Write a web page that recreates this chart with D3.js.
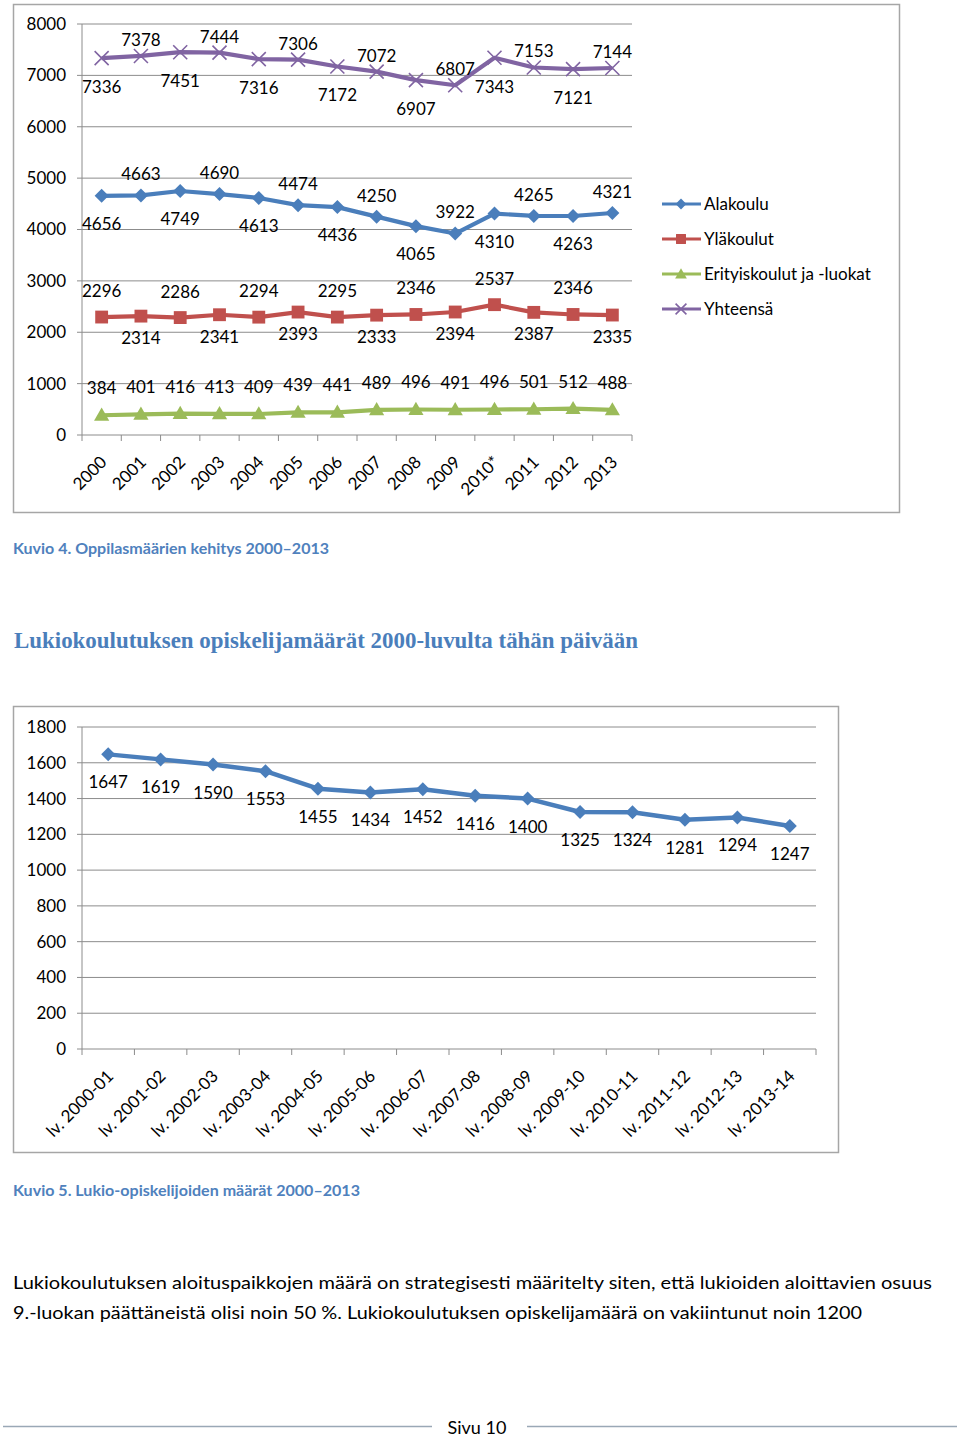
<!DOCTYPE html>
<html>
<head>
<meta charset="utf-8">
<style>
  body{margin:0;background:#fff;}
  svg text{font-family:Lato,"Open Sans",sans-serif;fill:#000;}
</style>
</head>
<body>
<svg id="page" width="960" height="1439"></svg>
<script src="https://d3js.org/d3.v7.min.js"></script>
<script>

// ---- data: Kuvio 4 ----
var years = ["2000","2001","2002","2003","2004","2005","2006","2007","2008","2009","2010*","2011","2012","2013"];
var alakoulu  = [4656,4663,4749,4690,4613,4474,4436,4250,4065,3922,4310,4265,4263,4321];
var ylakoulut = [2296,2314,2286,2341,2294,2393,2295,2333,2346,2394,2537,2387,2346,2335];
var erityis   = [384,401,416,413,409,439,441,489,496,491,496,501,512,488];
var yhteensa  = [7336,7378,7451,7444,7316,7306,7172,7072,6907,6807,7343,7153,7121,7144];
var seriesNames = ["Alakoulu","Yläkoulut","Erityiskoulut ja -luokat","Yhteensä"];
var topTicks = [0,1000,2000,3000,4000,5000,6000,7000,8000];

// ---- data: Kuvio 5 ----
var schoolYears = ["lv. 2000-01","lv. 2001-02","lv. 2002-03","lv. 2003-04","lv. 2004-05","lv. 2005-06","lv. 2006-07",
                   "lv. 2007-08","lv. 2008-09","lv. 2009-10","lv. 2010-11","lv. 2011-12","lv. 2012-13","lv. 2013-14"];
var lukio = [1647,1619,1590,1553,1455,1434,1452,1416,1400,1325,1324,1281,1294,1247];
var bottomTicks = [0,200,400,600,800,1000,1200,1400,1600,1800];

var svg = d3.select("#page");
var gridColor = "#8c8c8c";

function marker(sel, type, color, scale) {
    scale = scale || 1;
    if (type == "diamond") {
        sel.append("path").attr("d", d3.symbol(d3.symbolSquare, 98*scale)())
            .attr("transform", "rotate(45)").attr("fill", color);
    } else if (type == "square") {
        sel.append("path").attr("d", d3.symbol(d3.symbolSquare, 165*scale)()).attr("fill", color);
    } else if (type == "triangle") {
        sel.append("path").attr("d", d3.symbol(d3.symbolTriangle, 100*scale)())
            .attr("transform", "translate(0,1)").attr("fill", color);
    } else if (type == "x") {
        var r = 7*Math.sqrt(scale);
        sel.append("path").attr("d", "M" + (-r) + "," + (-r) + "L" + r + "," + r + "M" + (-r) + "," + r + "L" + r + "," + (-r))
            .attr("stroke", color).attr("stroke-width", 1.6).attr("fill", "none");
    }
}

// common frame/grid/axes for an Excel-like line chart
function drawFrame(g, x, y, ticks, cats, fontSize) {
    var left = x.range()[0], right = x.range()[1];
    var y0 = y(0);
    g.selectAll(".grid").data(ticks.filter(function(t){ return t > 0; })).enter().append("line")
        .attr("x1", left - 5).attr("x2", right)
        .attr("y1", function(d){ return y(d); }).attr("y2", function(d){ return y(d); })
        .attr("stroke", gridColor).attr("stroke-width", 1);
    g.append("line").attr("x1", left).attr("x2", left)
        .attr("y1", y(ticks[ticks.length-1])).attr("y2", y0)
        .attr("stroke", gridColor).attr("stroke-width", 1);
    g.append("line").attr("x1", left - 5).attr("x2", right).attr("y1", y0).attr("y2", y0)
        .attr("stroke", gridColor).attr("stroke-width", 1);
    // category ticks between categories
    var edges = cats.map(function(c){ return x(c); }).concat([right]);
    g.selectAll(".xt").data(edges).enter().append("line")
        .attr("x1", function(d){ return d; }).attr("x2", function(d){ return d; })
        .attr("y1", y0).attr("y2", y0 + 6)
        .attr("stroke", gridColor).attr("stroke-width", 1);
    g.selectAll(".yl").data(ticks).enter().append("text")
        .attr("x", left - 16).attr("y", function(d){ return y(d); })
        .attr("dy", "0.35em").attr("text-anchor", "end")
        .style("font-size", fontSize + "px").text(function(d){ return d; });
    g.selectAll(".xl").data(cats).enter().append("text")
        .attr("transform", function(d){
            return "translate(" + (x(d) + x.bandwidth()/2 + 2) + "," + (y0 + 24) + ") rotate(-45)";
        })
        .attr("dy", "0.35em").attr("text-anchor", "end")
        .style("font-size", fontSize + "px").text(function(d){ return d; });
}

// ===== Chart 1 =====
svg.append("rect").attr("x", 13.5).attr("y", 4.5).attr("width", 886).attr("height", 508)
    .attr("fill", "none").attr("stroke", "#a6a6a6").attr("stroke-width", 1.5);

var x1 = d3.scaleBand().domain(years).range([82, 632]);
var y1 = d3.scaleLinear().domain([0, 8000]).range([435, 24]);
var g1 = svg.append("g");
drawFrame(g1, x1, y1, topTicks, years, 17);

var topSeries = [
    {name: seriesNames[0], values: alakoulu,  color: "#4a7ebb", marker: "diamond",  labels: ["below","above"], up: -21, down: 28},
    {name: seriesNames[1], values: ylakoulut, color: "#c0504d", marker: "square",   labels: ["above","below"], up: -26, down: 22},
    {name: seriesNames[2], values: erityis,   color: "#9bbb59", marker: "triangle", labels: ["above","above"], up: -27, down: 0},
    {name: seriesNames[3], values: yhteensa,  color: "#8064a2", marker: "x",        labels: ["below","above"], up: -16, down: 29}
];

var cx1 = function(i){ return x1(years[i]) + x1.bandwidth()/2; };

topSeries.forEach(function(s){
    var line = d3.line().x(function(d, i){ return cx1(i); }).y(function(d){ return y1(d); });
    g1.append("path").datum(s.values).attr("d", line)
        .attr("fill", "none").attr("stroke", s.color).attr("stroke-width", 4.2)
        .attr("stroke-linejoin", "round");
    s.values.forEach(function(v, i){
        var m = g1.append("g").attr("transform", "translate(" + cx1(i) + "," + y1(v) + ")");
        marker(m, s.marker, s.color);
    });
    g1.selectAll(null).data(s.values).enter().append("text")
        .attr("x", function(d, i){ return cx1(i); })
        .attr("y", function(d, i){ return y1(d) + (s.labels[i % 2] == "above" ? s.up : s.down); })
        .attr("dy", "0.35em").attr("text-anchor", "middle")
        .style("font-size", "17px").text(function(d){ return d; });
});

// legend
var leg = svg.append("g");
topSeries.forEach(function(s, i){
    var ly = 204 + i*35;
    leg.append("line").attr("x1", 662).attr("x2", 701).attr("y1", ly).attr("y2", ly)
        .attr("stroke", s.color).attr("stroke-width", 3);
    var m = leg.append("g").attr("transform", "translate(681," + ly + ")");
    marker(m, s.marker, s.color, 0.6);
    leg.append("text").attr("x", 704).attr("y", ly).attr("dy", "0.35em")
        .style("font-size", "17px").text(s.name);
});

svg.append("text").attr("x", 13).attr("y", 554).attr("textLength", 316).attr("lengthAdjust", "spacingAndGlyphs")
    .style("font-size", "15px").style("font-weight", "bold").style("fill", "#4f81bd")
    .text("Kuvio 4. Oppilasmäärien kehitys 2000–2013");

svg.append("text").attr("x", 14).attr("y", 648).attr("textLength", 624).attr("lengthAdjust", "spacingAndGlyphs")
    .style("font-family", "'Liberation Serif','DejaVu Serif',serif")
    .style("font-size", "23px").style("font-weight", "bold").style("fill", "#4a7ebb")
    .text("Lukiokoulutuksen opiskelijamäärät 2000-luvulta tähän päivään");

// ===== Chart 2 =====
svg.append("rect").attr("x", 13.5).attr("y", 706.5).attr("width", 825).attr("height", 446)
    .attr("fill", "none").attr("stroke", "#a6a6a6").attr("stroke-width", 1.5);

var x2 = d3.scaleBand().domain(schoolYears).range([82, 816]);
var y2 = d3.scaleLinear().domain([0, 1800]).range([1049, 727]);
var g2 = svg.append("g");
drawFrame(g2, x2, y2, bottomTicks, schoolYears, 17);

var cx2 = function(i){ return x2(schoolYears[i]) + x2.bandwidth()/2; };
g2.append("path").datum(lukio)
    .attr("d", d3.line().x(function(d, i){ return cx2(i); }).y(function(d){ return y2(d); }))
    .attr("fill", "none").attr("stroke", "#4a7ebb").attr("stroke-width", 4.5).attr("stroke-linejoin", "round");
lukio.forEach(function(v, i){
    var m = g2.append("g").attr("transform", "translate(" + cx2(i) + "," + y2(v) + ")");
    marker(m, "diamond", "#4a7ebb");
});
g2.selectAll(null).data(lukio).enter().append("text")
    .attr("x", function(d, i){ return cx2(i); })
    .attr("y", function(d){ return y2(d) + 28; })
    .attr("dy", "0.35em").attr("text-anchor", "middle")
    .style("font-size", "17px").text(function(d){ return d; });

svg.append("text").attr("x", 13).attr("y", 1196).attr("textLength", 347).attr("lengthAdjust", "spacingAndGlyphs")
    .style("font-size", "15px").style("font-weight", "bold").style("fill", "#4f81bd")
    .text("Kuvio 5. Lukio-opiskelijoiden määrät 2000–2013");

// body text
svg.append("text").attr("x", 13).attr("y", 1289).attr("textLength", 919).attr("lengthAdjust", "spacingAndGlyphs")
    .style("font-size", "18px")
    .text("Lukiokoulutuksen aloituspaikkojen määrä on strategisesti määritelty siten, että lukioiden aloittavien osuus");
svg.append("text").attr("x", 13).attr("y", 1319).attr("textLength", 849).attr("lengthAdjust", "spacingAndGlyphs")
    .style("font-size", "18px")
    .text("9.-luokan päättäneistä olisi noin 50 %. Lukiokoulutuksen opiskelijamäärä on vakiintunut noin 1200");

// footer
svg.append("line").attr("x1", 3).attr("x2", 432).attr("y1", 1426.5).attr("y2", 1426.5)
    .attr("stroke", "#9aa8b6").attr("stroke-width", 1.5);
svg.append("line").attr("x1", 527).attr("x2", 957).attr("y1", 1426.5).attr("y2", 1426.5)
    .attr("stroke", "#9aa8b6").attr("stroke-width", 1.5);
svg.append("text").attr("x", 477).attr("y", 1434).attr("text-anchor", "middle")
    .style("font-size", "18px").text("Sivu 10");

</script>
</body>
</html>
